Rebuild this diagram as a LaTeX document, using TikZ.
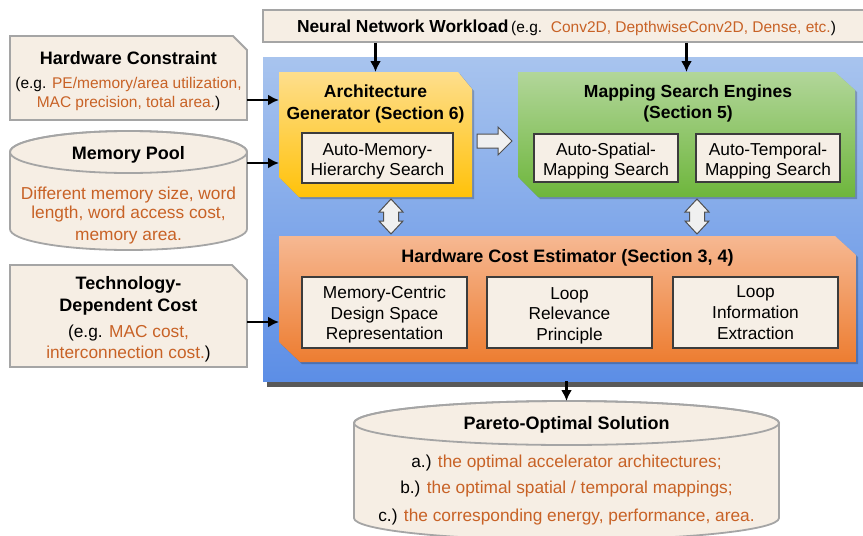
\documentclass[tikz,border=0pt]{standalone}
\usepackage{fontspec}
\setmainfont{Liberation Sans}
\usetikzlibrary{arrows.meta,calc,shadows}
\definecolor{beige}{RGB}{246,238,228}
\definecolor{bgray}{RGB}{165,165,165}
\definecolor{otext}{RGB}{200,98,38}
\definecolor{innerfill}{RGB}{246,239,230}
\definecolor{innerdraw}{RGB}{60,60,60}
\definecolor{btop}{RGB}{168,196,238}
\definecolor{bbot}{RGB}{92,142,230}
\definecolor{ytop}{RGB}{254,222,140}
\definecolor{ybot}{RGB}{255,194,10}
\definecolor{gtop}{RGB}{178,214,154}
\definecolor{gbot}{RGB}{110,182,60}
\definecolor{otop}{RGB}{246,184,146}
\definecolor{obot}{RGB}{237,125,49}
\definecolor{harrfill}{RGB}{240,240,240}
\definecolor{harrdraw}{RGB}{80,80,80}
\newcommand{\og}[1]{\textcolor{otext}{#1}}
\tikzset{
  bt/.style={font=\fontsize{18}{21}\selectfont\bfseries, inner sep=0pt, anchor=base},
  btb/.style={font=\fontsize{17.5}{21}\selectfont\bfseries, inner sep=0pt, anchor=base},
  rt/.style={font=\fontsize{17.3}{20}\selectfont, inner sep=0pt, anchor=base},
  st/.style={font=\fontsize{15.5}{18}\selectfont, inner sep=0pt, anchor=base},
  refbox/.style={inner sep=0pt, outer sep=0pt, draw=none},
  arr/.style={line width=2.3pt, -{Latex[length=11pt,width=11pt]}},
  inbox/.style={draw=innerdraw, fill=innerfill, line width=1.2pt, inner sep=0pt},
  outerbox/.style={draw=bgray, fill=beige, line width=1.8pt},
  hollow/.style={draw=harrdraw, fill=harrfill, line width=1pt, line join=miter},
  softshadow/.style={fill=black, opacity=0.22, xshift=2pt, yshift=-2pt}
}
\begin{document}
\begin{tikzpicture}[x=1pt,y=-1pt]
\useasboundingbox (0,0) rectangle (863,536);
\clip (0,0) rectangle (863,536);

% ---- Neural network workload
\node[outerbox, inner sep=0pt, minimum width=607pt, minimum height=32pt] (nn) at (566.5,26) {};
\node[anchor=base, inner sep=0pt] (nntext) at (566.5,32)
  {{\fontsize{17.4}{20}\selectfont\bfseries Neural Network Workload} {\fontsize{15.5}{18}\selectfont(e.g.\ \ \og{Conv2D, DepthwiseConv2D, Dense, etc.})}};

% ---- Hardware constraint
\path[outerbox] (10,36) -- (233,36) -- (247,50) -- (247,120) -- (10,120) -- cycle;
\node[refbox, minimum width=237pt, minimum height=84pt] (hwc) at (128.5,78) {};
\node[bt] (hwct) at (128.5,64) {Hardware Constraint};
\node[st] (hwc1) at (128.5,88) {(e.g. \og{PE/memory/area utilization,}};
\node[st] (hwc2) at (128.5,107) {\og{MAC precision, total area.})};

% ---- Memory pool cylinder
\path[outerbox] (10,152) -- (10,229) arc[start angle=180, end angle=360, x radius=118.5pt, y radius=21pt]
  -- (247,152) arc[start angle=0, end angle=180, x radius=118.5pt, y radius=21pt] -- cycle;
\draw[draw=bgray, line width=1.8pt] (128.5,152) ellipse [x radius=118.5pt, y radius=21pt];
\node[refbox, minimum width=237pt, minimum height=119pt] (mp) at (128.5,190.5) {};
\node[bt] (mpt) at (128.5,159) {Memory Pool};
\node[rt, text=otext] (mp1) at (128.5,199) {Different memory size, word};
\node[rt, text=otext] (mp2) at (128.5,218) {length, word access cost,};
\node[rt, text=otext] (mp3) at (128.5,240) {memory area.};

% ---- Technology-dependent cost
\path[outerbox] (10,265) -- (232,265) -- (247,280) -- (247,367) -- (10,367) -- cycle;
\node[refbox, minimum width=237pt, minimum height=102pt] (tech) at (128.5,316) {};
\node[bt] (tech1) at (128.5,289) {Technology-};
\node[bt] (tech2) at (128.5,311) {Dependent Cost};
\node[rt] (tech3) at (128.5,337) {(e.g. \og{MAC cost,}};
\node[rt] (tech4) at (128.5,358) {\og{interconnection cost.})};

% ---- Big blue framework box
\node[refbox, minimum width=608pt, minimum height=324pt, top color=btop, bottom color=bbot,
      drop shadow={shadow xshift=4pt, shadow yshift=-6pt, opacity=0.65, fill=black}] (blue) at (567,219) {};

% ---- Architecture generator (yellow)
\path[softshadow] (279,72) -- (458,72) -- (472,89) -- (472,197) -- (299,197) -- (279,177) -- cycle;
\path[top color=ytop, bottom color=ybot] (279,72) -- (458,72) -- (472,89) -- (472,197) -- (299,197) -- (279,177) -- cycle;
\node[refbox, minimum width=193pt, minimum height=125pt] (archgen) at (375.5,134.5) {};
\node[btb] (ag1) at (375.5,97) {Architecture};
\node[btb] (ag2) at (375.5,119) {Generator (Section 6)};
\node[inbox, minimum width=151pt, minimum height=50pt] (amh) at (377.5,158) {};
\node[rt] (amh1) at (377.5,155) {Auto-Memory-};
\node[rt] (amh2) at (377.5,175) {Hierarchy Search};

% ---- Mapping search engines (green)
\path[softshadow] (518,72) -- (835,72) -- (855,90) -- (855,197) -- (538,197) -- (518,177) -- cycle;
\path[top color=gtop, bottom color=gbot] (518,72) -- (835,72) -- (855,90) -- (855,197) -- (538,197) -- (518,177) -- cycle;
\node[refbox, minimum width=337pt, minimum height=125pt] (mse) at (686.5,134.5) {};
\node[btb] (mse1) at (688,97) {Mapping Search Engines};
\node[btb] (mse2) at (688,118) {(Section 5)};
\node[inbox, minimum width=144pt, minimum height=48pt] (asm) at (606,158) {};
\node[rt] (asm1) at (606,155) {Auto-Spatial-};
\node[rt] (asm2) at (606,175) {Mapping Search};
\node[inbox, minimum width=144pt, minimum height=48pt] (atm) at (768,158) {};
\node[rt] (atm1) at (768,155) {Auto-Temporal-};
\node[rt] (atm2) at (768,175) {Mapping Search};

% ---- Hardware cost estimator (orange)
\path[softshadow] (279,236) -- (835,236) -- (856,255) -- (856,362) -- (300,362) -- (279,342) -- cycle;
\path[top color=otop, bottom color=obot] (279,236) -- (835,236) -- (856,255) -- (856,362) -- (300,362) -- (279,342) -- cycle;
\node[refbox, minimum width=577pt, minimum height=126pt] (hce) at (567.5,299) {};
\node[bt] (hcet) at (567.5,262) {Hardware Cost Estimator (Section 3, 4)};
\node[inbox, minimum width=165pt, minimum height=71pt] (mcd) at (384.5,312.5) {};
\node[rt] (mcd1) at (384.5,298) {Memory-Centric};
\node[rt] (mcd2) at (384.5,319) {Design Space};
\node[rt] (mcd3) at (384.5,339) {Representation};
\node[inbox, minimum width=165pt, minimum height=71pt] (lrp) at (569.5,312.5) {};
\node[rt] (lrp1) at (569.5,299) {Loop};
\node[rt] (lrp2) at (569.5,319) {Relevance};
\node[rt] (lrp3) at (569.5,340) {Principle};
\node[inbox, minimum width=165pt, minimum height=71pt] (lie) at (755.5,312.5) {};
\node[rt] (lie1) at (755.5,297) {Loop};
\node[rt] (lie2) at (755.5,318) {Information};
\node[rt] (lie3) at (755.5,339) {Extraction};

% ---- Hollow arrows
\path[hollow] (477,134) -- (498,134) -- (498,127) -- (512,141) -- (498,155) -- (498,148) -- (477,148) -- cycle;
\path[hollow] (391,199) -- (403,212) -- (398.5,212) -- (398.5,221) -- (403,221) -- (391,234)
  -- (379,221) -- (383.5,221) -- (383.5,212) -- (379,212) -- cycle;
\path[hollow] (697,199) -- (709,212) -- (704.5,212) -- (704.5,221) -- (709,221) -- (697,234)
  -- (685,221) -- (689.5,221) -- (689.5,212) -- (685,212) -- cycle;

% ---- Pareto-optimal solution cylinder
\path[outerbox] (354,423) -- (354,518) arc[start angle=180, end angle=360, x radius=212.5pt, y radius=22pt]
  -- (779,423) arc[start angle=0, end angle=180, x radius=212.5pt, y radius=22pt] -- cycle;
\draw[draw=bgray, line width=1.8pt] (566.5,423) ellipse [x radius=212.5pt, y radius=22pt];
\node[refbox, minimum width=425pt, minimum height=139pt] (pareto) at (566.5,470.5) {};
\node[bt] (pt) at (566.5,429) {Pareto-Optimal Solution};
\node[rt] (pa) at (566.5,467) {a.) \og{the optimal accelerator architectures;}};
\node[rt] (pb) at (566.5,493) {b.) \og{the optimal spatial / temporal mappings;}};
\node[rt] (pc) at (566.5,521) {c.) \og{the corresponding energy, performance, area.}};

% ---- Connectors
\path ([yshift=-22pt]hwc.east) coordinate (hwcout);
\path ([yshift=27.5pt]mp.east) coordinate (mpout);
\path ([yshift=-6pt]tech.east) coordinate (techout);
\draw[arr] (hwcout) -- (hwcout -| archgen.west);
\draw[arr] (mpout) -- (mpout -| archgen.west);
\draw[arr] (techout) -- (techout -| hce.west);
\draw[arr] (archgen.north |- nn.south) -- (archgen.north);
\draw[arr] (mse.north |- nn.south) -- (mse.north);
\draw[arr] (pareto.north |- blue.south) -- (pareto.north);
\end{tikzpicture}
\end{document}
